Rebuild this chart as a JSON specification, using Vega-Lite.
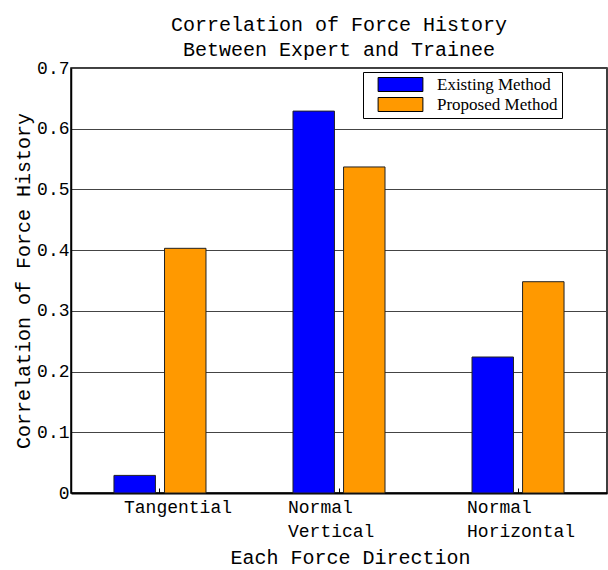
{
  "$schema": "https://vega.github.io/schema/vega-lite/v6.json",
  "autosize": {"type": "none"},
  "padding": {"left": 71, "top": 68, "right": 1, "bottom": 77},
  "width": 536,
  "height": 425,
  "background": "white",
  "title": {
    "text": ["Correlation of Force History", "Between Expert and Trainee"],
    "font": "Liberation Mono",
    "fontSize": 20,
    "fontWeight": "normal",
    "color": "black",
    "lineHeight": 25,
    "offset": -1,
    "anchor": "middle"
  },
  "data": {
    "values": [
      {"direction": "Tangential", "method": "Existing Method", "corr": 0.029},
      {"direction": "Tangential", "method": "Proposed Method", "corr": 0.403},
      {"direction": "Normal Vertical", "method": "Existing Method", "corr": 0.629},
      {"direction": "Normal Vertical", "method": "Proposed Method", "corr": 0.537},
      {"direction": "Normal Horizontal", "method": "Existing Method", "corr": 0.224},
      {"direction": "Normal Horizontal", "method": "Proposed Method", "corr": 0.348}
    ]
  },
  "mark": {"type": "bar", "stroke": "#222222", "strokeWidth": 1},
  "encoding": {
    "x": {
      "field": "direction",
      "type": "nominal",
      "sort": ["Tangential", "Normal Vertical", "Normal Horizontal"],
      "scale": {"paddingInner": 0.486, "paddingOuter": 0.24},
      "axis": {
        "title": "Each Force Direction",
        "titleFont": "Liberation Mono",
        "titleFontSize": 20,
        "titleFontWeight": "normal",
        "titleColor": "black",
        "titleX": 279,
        "titleY": 70,
        "titleBaseline": "alphabetic",
        "labelFont": "Liberation Mono",
        "labelFontSize": 18,
        "labelColor": "black",
        "labelAngle": 0,
        "labelAlign": "left",
        "labelOffset": {"condition": {"test": "datum.value == 'Tangential'", "value": -36}, "value": -51},
        "labelExpr": "split(datum.label, ' ')",
        "labelLineHeight": 24,
        "labelPadding": 10,
        "labelLimit": 0,
        "bandPosition": 0.5,
        "tickSize": -5,
        "tickColor": "black",
        "domainColor": "black",
        "domainWidth": 2,
        "grid": false
      }
    },
    "xOffset": {
      "field": "method",
      "type": "nominal",
      "scale": {"paddingInner": 0.18, "paddingOuter": 0}
    },
    "y": {
      "field": "corr",
      "type": "quantitative",
      "scale": {"domain": [0, 0.7], "nice": false},
      "axis": {
        "title": "Correlation of Force History",
        "titleFont": "Liberation Mono",
        "titleFontSize": 20,
        "titleFontWeight": "normal",
        "titleColor": "black",
        "titlePadding": 3,
        "values": [0, 0.1, 0.2, 0.3, 0.4, 0.5, 0.6, 0.7],
        "labelExpr": "datum.value == 0 ? '0' : format(datum.value, '.1f')",
        "labelFont": "Liberation Mono",
        "labelFontSize": 18,
        "labelColor": "black",
        "labelPadding": 2,
        "ticks": false,
        "domainColor": "black",
        "domainWidth": 1.5,
        "grid": true,
        "gridColor": "#444444",
        "gridWidth": 1
      }
    },
    "color": {
      "field": "method",
      "type": "nominal",
      "scale": {"domain": ["Existing Method", "Proposed Method"], "range": ["#0000ff", "#ff9900"]},
      "legend": {
        "title": null,
        "orient": "none",
        "legendX": 292,
        "legendY": 4,
        "direction": "vertical",
        "strokeColor": "black",
        "fillColor": "white",
        "padding": 4,
        "symbolType": "M-3.2,-1L3.2,-1L3.2,1L-3.2,1Z",
        "symbolSize": 196,
        "symbolOffset": 25,
        "symbolStrokeColor": "black",
        "symbolStrokeWidth": 1,
        "symbolOpacity": 1,
        "labelFont": "Liberation Serif",
        "labelFontSize": 17,
        "labelColor": "black",
        "labelOffset": 28,
        "labelLimit": 400,
        "rowPadding": 1
      }
    }
  },
  "config": {
    "view": {"stroke": "black", "strokeWidth": 1.5}
  }
}
